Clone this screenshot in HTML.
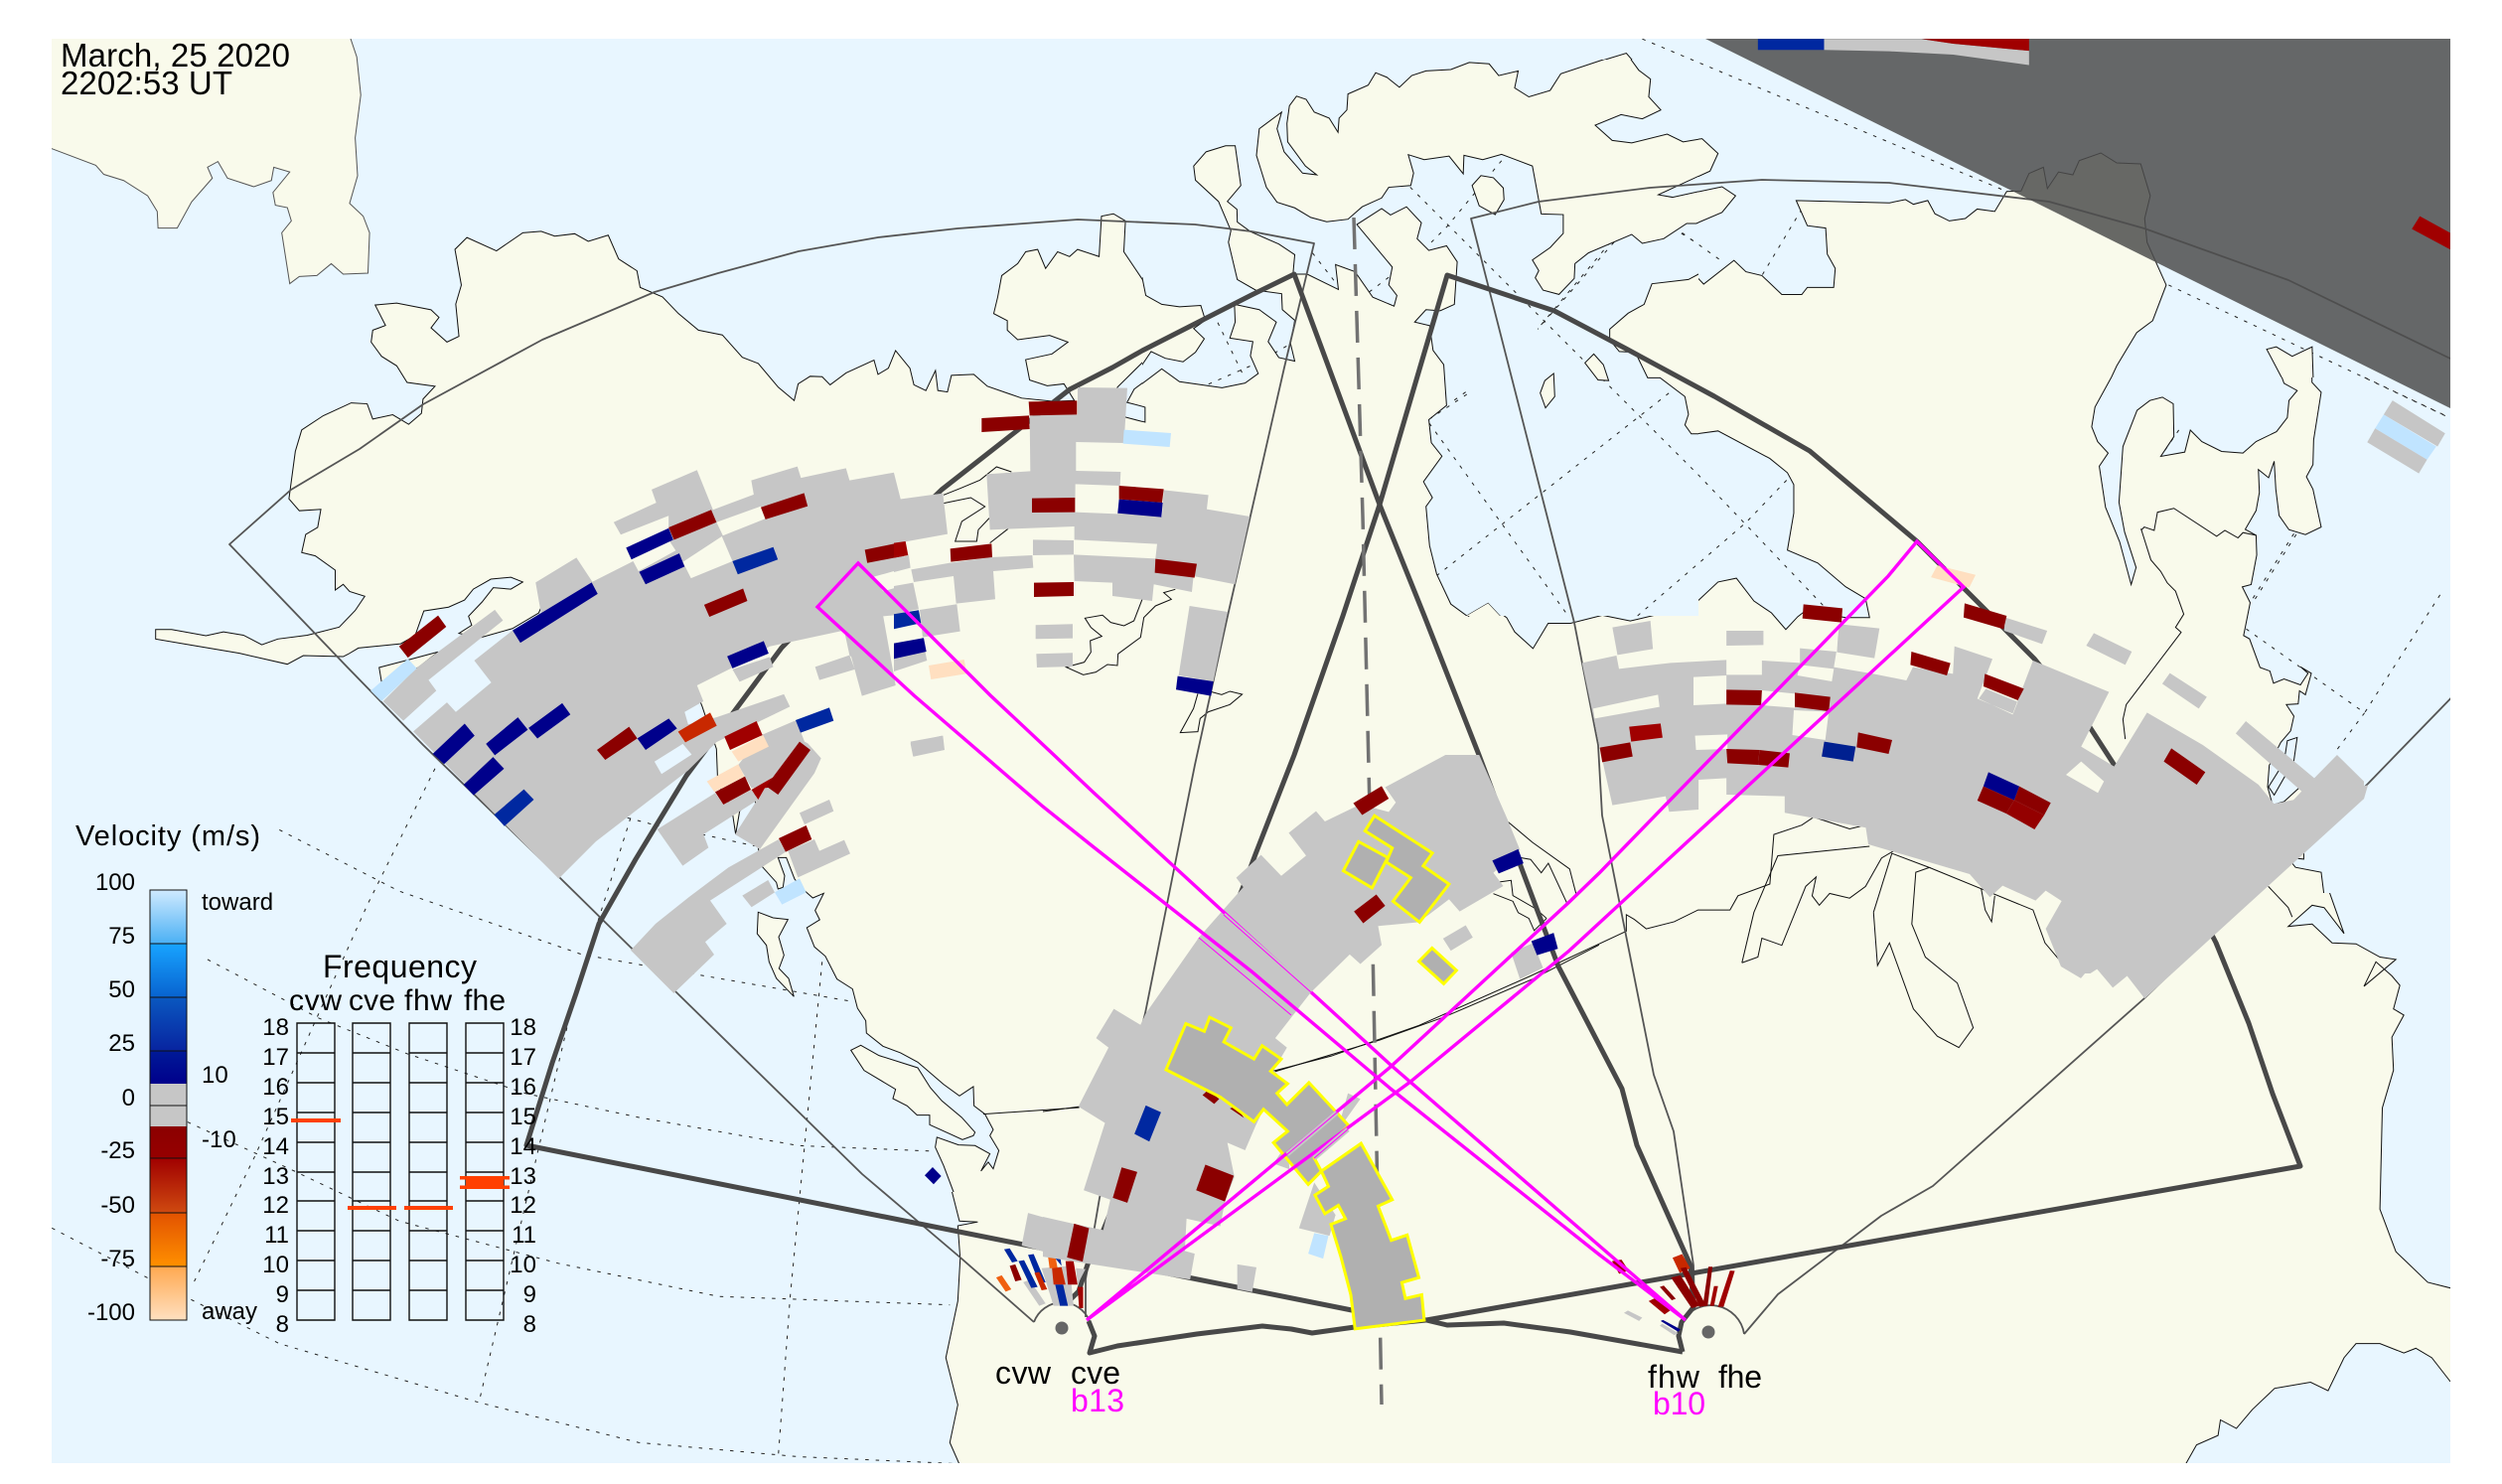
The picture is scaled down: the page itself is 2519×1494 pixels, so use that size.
<!DOCTYPE html>
<html><head><meta charset="utf-8"><style>
html,body{margin:0;padding:0;background:#fff}
svg{display:block}
*{vector-effect:non-scaling-stroke}
text{font-family:"Liberation Sans",sans-serif;vector-effect:none}
.l{fill:#f9faeb;stroke:#111;stroke-width:1}
.w{fill:none;stroke:#111;stroke-width:1}
.d{fill:none;stroke:#222;stroke-width:1;stroke-dasharray:3.5 7}
.g{fill:#c6c6c6}.r{fill:#8b0000}.n{fill:#00008b}.b{fill:#0028a0}.p{fill:#ffdfc0}.c{fill:#c0e4ff}.s{fill:#e8f6ff}.o{fill:#c82800}.a{fill:#a00000}
.y{fill:#b0b0b0;stroke:#ff0;stroke-width:3}
.t{fill:none;stroke:#484848;stroke-width:5;stroke-linejoin:round}
.f{fill:none;stroke:#555;stroke-width:1.8;stroke-linejoin:round}
.m{fill:none;stroke:#f0f;stroke-width:3.4}
</style></head><body>
<svg xmlns="http://www.w3.org/2000/svg" width="2519" height="1494" viewBox="0 0 2519 1494">
<defs>
<clipPath id="map"><rect x="52" y="39" width="2415" height="1434"/></clipPath>
<clipPath id="rest"><path clip-rule="evenodd" d="M0 0H2519V1494H0ZM1150 60H1710V620H1150ZM2000 380H2519V899H2000ZM600 700H1100V1200H600Z"/></clipPath>
<clipPath id="cq1"><rect x="0" y="0" width="1260" height="750"/></clipPath>
<clipPath id="cq2"><rect x="1260" y="0" width="1259" height="750"/></clipPath>
<clipPath id="cq3"><rect x="0" y="750" width="1260" height="744"/></clipPath>
<clipPath id="cq4"><rect x="1260" y="750" width="1259" height="744"/></clipPath>
<clipPath id="c6"><rect x="1150" y="60" width="560" height="560"/></clipPath>
<clipPath id="c5"><rect x="2000" y="380" width="519" height="519"/></clipPath>
<clipPath id="c8"><rect x="600" y="700" width="500" height="500"/></clipPath>
<linearGradient id="v1" x1="0" y1="0" x2="0" y2="1"><stop offset="0" stop-color="#cfeaff"/><stop offset="1" stop-color="#4bb0f4"/></linearGradient>
<linearGradient id="v2" x1="0" y1="0" x2="0" y2="1"><stop offset="0" stop-color="#18a4ff"/><stop offset="1" stop-color="#0863d0"/></linearGradient>
<linearGradient id="v3" x1="0" y1="0" x2="0" y2="1"><stop offset="0" stop-color="#0a58c0"/><stop offset="1" stop-color="#0824a0"/></linearGradient>
<linearGradient id="v4" x1="0" y1="0" x2="0" y2="1"><stop offset="0" stop-color="#001a98"/><stop offset="1" stop-color="#00008b"/></linearGradient>
<linearGradient id="v5" x1="0" y1="0" x2="0" y2="1"><stop offset="0" stop-color="#8b0000"/><stop offset="1" stop-color="#960000"/></linearGradient>
<linearGradient id="v6" x1="0" y1="0" x2="0" y2="1"><stop offset="0" stop-color="#a00000"/><stop offset="1" stop-color="#cf4a10"/></linearGradient>
<linearGradient id="v7" x1="0" y1="0" x2="0" y2="1"><stop offset="0" stop-color="#e25200"/><stop offset="1" stop-color="#ff9000"/></linearGradient>
<linearGradient id="v8" x1="0" y1="0" x2="0" y2="1"><stop offset="0" stop-color="#ffa850"/><stop offset="1" stop-color="#ffe0c0"/></linearGradient>
</defs>
<rect width="2519" height="1494" fill="#fff"/>
<g clip-path="url(#map)">
<rect x="52" y="39" width="2415" height="1434" fill="#e8f6ff"/>

<!-- graticule -->
<g transform="translate(0,750) scale(.8036,.4745)">
<polyline class="d" points="65,1025 190,1135 350,1270 600,1395 800,1480 1000,1510 1200,1525"/>
<polyline class="d" points="260,455 400,580 510,655 660,740 800,790 1000,850 1170,862"/>
<polyline class="d" points="235,800 370,905 500,1010 700,1100 900,1170 1190,1188"/>
<polyline class="d" points="350,180 500,310 730,445 1070,545"/>
<polyline class="d" points="545,50 460,340 320,870 240,1150"/>
<polyline class="d" points="790,155 720,530 600,1395"/>
<polyline class="d" points="1030,460 990,1170 975,1510"/>
</g>
<g transform="translate(1260,0) scale(.8029,.4783)">
<polyline class="d" points="490,82 950,405"/>
<polyline class="d" points="1150,600 1503,880"/>
<polyline class="d" points="199,394 560,999 720,1280"/>
<polyline class="d" points="223,891 397,1296"/>
<polyline class="d" points="232,1212 526,824"/>
<polyline class="d" points="680,995 620,1100 478,1305"/>
<polyline class="d" points="690,440 640,580"/>
<polyline class="d" points="540,490 590,550"/>
<polyline class="d" points="450,510 360,690"/>
<polyline class="d" points="270,830 225,880"/>
<polyline class="d" points="1310,1125 1255,1270"/>
</g>
<g transform="translate(1150,60) scale(.3571)">
<polyline class="d" points="200,715 285,890"/>
<polyline class="d" points="187,915 325,855 420,800"/>
<polyline class="d" points="480,545 550,635"/>
<polyline class="d" points="640,655 700,610"/>
<polyline class="d" points="1013,285 860,470 805,525"/>
<polyline class="d" points="880,960 915,935"/>
<polyline class="d" points="1330,515 1115,760"/>
<polyline class="d" points="1520,490 1568,520"/>
</g>
<g transform="translate(2000,380) scale(.331)">
<polyline class="d" points="1150,0 1400,118"/>
<polyline class="d" points="585,160 530,240"/>
<polyline class="d" points="935,475 805,680"/>
<polyline class="d" points="790,765 1150,1020 1390,645"/>
<polyline class="d" points="1150,1020 1060,1140"/>
</g>
<g transform="translate(600,700) scale(.3333)">
<polyline class="d" points="95,370 190,395"/>
<polyline class="d" points="320,420 480,455"/>
</g>

<!-- land outside detail tiles -->
<g clip-path="url(#rest)">
<g clip-path="url(#cq1)"><g transform="scale(.8036,.4783)">
<path class="l" style="stroke:#555" d="M65 313L120 348 130 367 155 380 185 412 197 445 198 480 222 480 240 425 266 375 260 352 273 340 285 375 318 393 340 380 343 352 363 362 342 405 345 432 360 437 365 465 353 490 363 597 375 582 397 580 415 555 430 577 461 575 463 490 455 455 438 428 448 370 445 290 452 200 447 120 437 70 40 70 40 313Z"/>
<path class="l" d="M195 1325L215 1325 258 1338 280 1330 305 1337 328 1357 348 1345 385 1337 425 1320 445 1285 457 1255 438 1245 430 1230 420 1242 420 1200 395 1170 378 1163 383 1125 398 1110 402 1072 375 1075 362 1050 370 950 378 905 405 875 440 848 460 850 467 882 492 873 512 893 528 870 530 840 545 813 510 805 497 770 478 750 465 720 467 695 483 685 470 642 497 638 540 652 550 668 540 690 560 720 575 708 571 640 578 600 570 525 585 500 622 528 655 490 678 487 695 497 720 492 737 508 762 495 775 545 798 570 802 605 830 625 850 660 875 695 905 705 930 752 950 765 975 815 995 843 1000 808 1015 792 1030 793 1040 810 1060 785 1095 758 1100 788 1113 775 1122 738 1140 775 1145 810 1160 822 1172 780 1175 822 1187 825 1192 790 1220 788 1237 813 1280 838 1320 845 1346 843 1333 808 1312 812 1290 800 1285 757 1318 745 1338 720 1315 706 1275 715 1262 695 1262 675 1245 660 1250 625 1255 580 1275 555 1285 530 1300 525 1310 565 1325 530 1340 540 1350 525 1377 540 1380 455 1395 450 1410 465 1408 530 1432 590 1438 625 1465 645 1508 643 1500 685 1508 710 1495 750 1478 762 1445 740 1400 815 1395 840 1410 878 1435 889 1435 857 1412 847 1421 819 1455 777 1479 803 1531 815 1560 805 1600 780 1600 1600 898 1600 880 1487 689 1278 681 1267 675 1290 642 1323 602 1342 575 1333 591 1316 587 1297 604 1267 618 1237 640 1240 655 1225 640 1215 615 1219 593 1240 582 1263 562 1278 531 1286 520 1338 502 1355 449 1364 436 1377 430 1382 380 1380 360 1398 300 1375 240 1358 195 1345Z"/>
<polygon class="l" points="475,1405 509,1390 549,1372 524,1405 478,1435"/>
</g></g>
<g clip-path="url(#cq2)"><g transform="translate(1260,0) scale(.8029,.4783)">
<path class="l" d="M470 112L500 170 497 205 513 232 490 250 460 240 430 262 455 298 478 298 520 282 540 297 565 292 585 323 575 360 510 410 528 415 590 393 607 412 590 447 558 470 540 490 520 500 508 513 490 510 475 495 440 515 410 545 405 580 385 618 365 610 355 580 358 568 352 547 390 495 390 450 362 448 350 350 315 325 288 338 265 328 265 365 247 328 198 327 205 390 170 395 125 460 75 465 30 425 5 320 8 270 37 237 35 300 62 363 80 367 45 300 45 230 55 203 70 210 95 245 108 280 110 250 120 235 120 200 148 180 160 155 185 185 220 150 250 147 275 130 298 132 308 158 333 150 333 180 347 205 372 190 385 152 415 140Z"/>
<path class="l" d="M-10 1600L-10 1250 250 1260 272 1297 295 1270 320 1300 330 1330 353 1365 372 1312 400 1312 440 1295 475 1307 530 1285 550 1280 585 1225 608 1217 630 1265 652 1290 670 1325 685 1298 695 1285 745 1300 775 1300 770 1260 745 1235 710 1185 672 1158 680 1080 680 1020 672 995 650 965 585 907 550 915 545 875 548 845 525 800 495 795 480 740 455 740 450 695 485 655 500 600 555 577 567 598 605 548 620 572 640 580 665 620 690 620 697 605 730 605 732 565 722 535 720 480 697 475 683 422 750 425 800 427 820 420 830 430 848 422 857 450 875 465 895 460 910 440 932 445 947 403 965 402 975 365 993 352 998 397 1012 362 1030 368 1038 338 1065 322 1085 343 1115 345 1127 412 1120 460 1123 510 1147 600 1130 675 1110 700 1085 770 1057 870 1055 900 1100 1600Z"/>
<polygon class="l" points="1273,735 1285,730 1305,750 1330,730 1332,830 1300,830 1295,805"/>
</g></g>
<g clip-path="url(#cq3)"><g transform="translate(0,750) scale(.8036,.4745)">
<path class="l" d="M880 -20L897 61 922 190 930 100 987 129 1000 180 1030 315 1020 345 1025 375 1010 385 1020 430 1045 470 1070 535 1085 610 1145 675 1165 725 1220 725 1222 770 1240 800 1250 860 1245 903 1230 900 1245 855 1175 835 1172 860 1190 930 1202 1010 1225 1012 1200 1020 1203 1090 1200 1180 1185 1300 1200 1400 1190 1480 1203 1530 1600 1600 1600 -20Z"/>
</g></g>
<g clip-path="url(#cq4)"><g transform="translate(1260,750) scale(.8029,.4745)">
<path class="l" d="M-10 -20L1290 -20 1347 290 1370 400 1345 345 1330 340 1300 385 1330 380 1355 420 1385 422 1415 450 1435 455 1395 512 1410 460 1430 490 1440 510 1432 560 1445 573 1430 620 1432 690 1418 770 1415 985 1435 1075 1475 1140 1510 1155 1510 1345 1503 1350 1480 1300 1460 1280 1445 1290 1415 1270 1385 1270 1370 1300 1350 1370 1328 1352 1283 1365 1255 1410 1235 1450 1215 1432 1212 1465 1185 1485 1170 1530 -10 1530Z"/>
</g></g>
</g>

<!-- Z6 land tile -->
<g clip-path="url(#c6)"><g transform="translate(1150,60) scale(.3571)">
<path class="l" d="M393 148L330 195 322 270 350 360 380 402 430 418 475 445 520 457 580 450 620 415 675 390 695 360 757 355 765 320 750 268 795 282 865 272 905 322 907 270 960 282 1013 267 1100 300 1125 435 1187 437 1187 490 1150 530 1100 565 1118 595 1108 615 1130 650 1175 662 1218 617 1220 575 1258 545 1380 493 1410 518 1470 505 1535 462 1562 462 1634 431 1672 384 1634 358 1495 388 1455 381 1600 314 1624 265 1578 223 1525 232 1480 210 1380 235 1325 228 1277 185 1350 155 1410 167 1462 142 1428 105 1433 55 1400 30 1378 0 1365 -18 1300 0 1180 40 1150 87 1090 105 1050 80 1060 32 1005 45 978 12 922 8 870 28 800 32 760 45 725 78 690 50 658 37 637 72 580 97 577 142 555 165 552 205 527 165 485 148 462 112 435 103 415 130 408 180 410 232 460 300 492 325 452 320 400 260 380 195Z"/>
<path class="l" d="M-100 1008L-47 1008 8 1022 8 980 -42 966 -22 930 55 872 105 908 225 925 290 912 327 885 305 835 312 795 247 785 262 740 260 690 330 705 378 740 355 795 385 840 430 850 418 800 430 735 395 705 393 660 320 650 268 620 243 515 250 482 215 400 150 340 145 300 180 260 235 243 262 243 278 355 240 400 267 422 268 458 305 485 385 520 430 550 425 605 465 605 553 648 545 578 600 598 650 670 710 695 718 665 695 635 705 585 605 465 675 420 700 438 745 415 787 460 775 505 808 538 858 525 888 570 880 690 840 708 800 705 768 740 810 750 820 820 850 860 858 975 808 1015 815 1080 845 1118 793 1190 818 1235 800 1260 810 1370 830 1450 870 1535 915 1568 975 1533 1010 1570 1000 1700 -100 1700Z"/>
<path class="l" d="M-100 615L0 615 10 665 55 690 105 697 165 693 178 735 145 758 175 787 150 825 115 852 65 842 25 823 0 860 -100 860Z"/>
<polygon class="l" points="930,355 955,327 990,333 1018,362 1020,395 995,437 950,412"/>
<polygon class="l" points="1248,855 1273,830 1300,860 1315,905 1285,903"/>
<polygon class="l" points="1160,885 1163,950 1137,982 1122,940 1135,905"/>
<path class="l" d="M1318 760L1318 790 1345 823 1390 825 1425 897 1460 897 1530 950 1540 1000 1530 1030 1548 1055 1700 1055 1700 600 1568 605 1540 620 1437 632 1415 690 1370 715Z"/>
<path class="l" d="M920 1700L915 1568 975 1533 1010 1570 1500 1700Z" style="stroke:none"/>
</g></g>

<!-- Z5 land tile -->
<g clip-path="url(#c5)"><g transform="translate(2000,380) scale(.331)">
<path class="l" d="M385 -10L330 90 320 150 338 195 370 230 343 270 362 395 405 500 440 630 455 578 420 470 403 380 415 210 458 100 497 70 535 60 568 80 570 180 530 240 603 227 620 160 655 195 715 225 780 230 820 195 882 165 915 122 920 70 945 40 905 18 895 -10 990 -10 990 15 1018 45 995 190 993 265 973 302 993 340 1018 455 970 478 920 463 890 420 880 340 875 255 858 305 827 280 830 350 820 405 787 462 820 480 822 540 805 630 778 637 802 685 782 785 800 795 832 882 862 893 873 930 905 917 955 935 978 900 955 880 988 900 970 965 952 953 948 993 912 995 935 1030 925 1075 895 1110 860 1180 855 1245 870 1300 905 1290 960 1240 1000 1300 965 1430 965 1465 915 1460 940 1490 1018 1505 1030 1600 -20 1600 -20 -10Z"/>
<polygon class="s" points="915,1105 945,1095 935,1165 875,1270 858,1245 905,1170"/>
<polygon class="w" points="915,1105 945,1095 935,1165 875,1270 858,1245 905,1170"/>
<polyline class="w" points="470,465 480,455 510,465 520,410 570,398 700,483 725,465 765,488 780,472 820,480"/>
<polyline class="w" points="470,460 500,555 530,590 550,625 575,650 600,720 575,760 592,775 425,995 415,1040 422,1100"/>
</g></g>

<!-- Z8 land tile -->
<g clip-path="url(#c8)"><g transform="translate(600,700) scale(.3333)">
<path class="l" d="M300 -20L321 34 364 162 368 265 410 340 422 420 434 350 480 300 490 460 500 515 545 565 550 585 565 580 570 545 550 490 575 490 600 555 630 590 655 612 688 598 662 650 676 678 637 702 660 760 693 788 728 857 775 887 790 945 815 983 817 1020 867 1060 920 1080 972 1108 1050 1175 1098 1210 1140 1182 1142 1240 1175 1265 1200 1312 1190 1330 1217 1375 1200 1430 1185 1410 1163 1437 1190 1385 1145 1360 1095 1358 1030 1335 1025 1365 1050 1420 1080 1500 1100 1600 1600 1600 1600 -20Z"/>
<polygon class="l" points="770,1072 800,1057 855,1088 972,1125 1010,1185 1045,1225 1105,1275 1145,1320 1140,1330 1107,1342 1008,1297 1008,1268 970,1268 940,1240 897,1218 905,1190 810,1133"/>
<polygon class="l" points="490,655 535,672 580,677 552,730 568,785 553,825 582,855 598,910 545,855 523,805 515,755 487,720"/>
<polyline class="w" points="1170,1265 1460,1245"/>
</g></g>

<!-- inland lines -->
<g transform="translate(900,370) scale(.3333)">
<polyline class="w" points="150,385 200,365 260,340 310,300 355,315"/>
<polyline class="w" points="150,410 232,393 275,420 205,465 185,525 250,525 255,490 288,455"/>
<polyline class="w" points="290,530 345,487"/>
<polyline class="w" points="750,700 725,765 695,780 655,770 630,748 577,757 595,785 628,812 593,825 595,860 575,890 520,905 572,928 610,920 645,897 675,900 677,865 745,815 755,755 790,720 838,700 815,680 850,670"/>
<polyline class="w" points="960,980 990,988 1015,978 1052,987 1015,1018 950,1040 925,1060 918,1100 865,1103 905,1030 918,985"/>
</g>
<g transform="translate(1260,750) scale(.8029,.4745)">
<polyline class="w" points="780,355 803,230 850,260 833,270 828,380 845,450 885,505 905,600 887,642 860,618 830,560 800,420 785,468 780,355"/>
<polyline class="w" points="615,462 630,355 660,235 775,215"/>
<polyline class="w" points="615,462 635,450 640,410 665,425 695,300 708,280 703,320 712,340 725,315 750,325 770,300 790,240 805,225"/>
<polyline class="w" points="915,305 920,350 928,375 932,320"/>
<polyline class="w" points="850,260 980,350 995,420 1020,470"/>
<polyline class="w" points="20,695 100,660 210,595 350,490 470,395 470,360 480,370 495,390 530,375 560,350 600,350 610,320 650,295 655,190 690,170 705,153 750,178 770,170"/>
<polyline class="w" points="1275,300 1300,345 1305,365"/>
</g>
<g transform="translate(1050,760) scale(.3571,.3827)">
<polyline class="w" points="1310,175 1380,230 1485,300 1503,365"/>
<polyline class="w" points="1270,365 1325,385 1340,415 1370,430 1385,462 1420,430"/>
<polyline class="w" points="1280,335 1320,330 1325,370 1390,405 1420,430"/>
<polyline class="w" points="1345,270 1375,275 1405,310 1425,285 1480,395"/>
<polyline class="w" points="0,938 105,925"/>
<polyline class="w" points="655,833 950,750 1130,690 1380,590 1568,500"/>
</g>

<!-- thin FOVs -->
<polyline class="f" points="1041,1331 968,1267 868,1182 683,1001 563,883 426,750 350,672 231,548 293,493 362,452 426,407 546,342 659,294 723,275 804,253 884,239 964,230 1085,221 1203,226 1260,233 1323,245 1293,370 1236,620 1203,770 1153,1020 1107,1206 1093,1288 1093,1326"/>
<polyline class="f" points="1756,1343 1790,1303 1894,1224 1946,1194 2159,1005 2384,789 2480,690"/>
<polyline class="f" points="2467,361 2304,282 2159,230 2063,203 1902,184 1774,181 1661,189 1549,203 1481,220 1585,627 1609,750 1613,821 1665,1082 1685,1139 1705,1274 1706,1316"/>
<path class="f" d="M1041 1331A30 30 0 0 1 1097 1330"/>
<path class="f" d="M1693 1331A34 34 0 0 1 1756 1343"/>
<!-- thick FOVs -->
<polyline class="t" points="1096,1330 1102,1345 1097,1362 1125,1355 1205,1343 1271,1335 1300,1338 1321,1342 1364,1336 1436,1329 2316,1174 2288,1101 2264,1030 2231,949 2180,850 2126,766 2104,732 2048,663 2018,633 1930,545 1822,454 1726,399 1637,351 1565,313 1457,277 1389,508 1352,620 1303,760 1264,860 1252,892 1111,1238 1095,1273 1086,1300 1073,1313"/>
<polyline class="t" points="1694,1361 1690,1345 1693,1331 1705,1316 1702,1274 1648,1153 1633,1096 1569,973 1489,760 1434,620 1389,508 1303,276 1260,297 1205,325 1150,353 1120,370 1077,392 948,493 868,570 787,652 691,781 640,865 603,930 580,1000 556,1070 530,1153 1361,1319 1436,1329 1457,1334 1514,1332 1581,1341 1694,1361"/>
<!-- dashed centre -->
<polyline fill="none" stroke="#727272" stroke-width="3.5" stroke-dasharray="32 15" points="1363,219 1372,520 1381,900 1391,1414"/>
<circle cx="1069" cy="1337" r="6.5" fill="#666"/>
<circle cx="1720" cy="1341" r="6.5" fill="#666"/>

<!-- terminator -->
<polygon points="1717,39 2467,39 2467,411" fill="#4e4e4e" fill-opacity=".85"/>
</g>

<!-- data -->
<g clip-path="url(#map)">
<g transform="translate(1260,0) scale(.8029,.4783)">
<polygon class="b" points="635,82 718,82 718,105 635,105"/>
<polygon class="g" points="718,82 840,82 880,92 975,107 975,137 880,115 800,108 718,105"/>
<polygon class="a" points="840,82 975,82 975,107 880,92"/>
<polygon class="a" points="1465,455 1503,490 1503,525 1455,482"/>
<polygon class="p" points="860,1190 908,1210 900,1237 852,1215"/>
</g>
<g transform="translate(2000,380) scale(.331)">
<polygon class="g" points="1235,70 1395,170 1372,210 1208,113"/>
<polygon class="c" points="1208,113 1368,210 1340,250 1182,155"/>
<polygon class="g" points="1182,155 1340,250 1315,292 1158,197"/>
</g>
<!-- west radar -->
<g transform="translate(350,440) scale(.3571)">
<path class="g" fill-rule="evenodd" d="M185 830L280 748 305 775 405 692 357 630 465 545 545 495 530 410 645 340 690 408 805 350 820 378 925 320 905 290 905 222 770 275 750 240 870 185 857 148 985 93 1030 205 1145 162 1138 122 1268 83 1278 115 1405 88 1415 122 1540 100 1568 210 1568 370 1480 395 1510 435 1568 418 1568 500 1510 505 1545 700 1450 730 1420 620 1415 615 1400 545 1190 590 1085 650 985 700 1003 745 950 775 960 810 1040 790 1230 725 1247 760 1040 860 960 940 830 1040 700 1140 595 1245ZM945 352L1055 280 1085 350 968 398ZM1040 240L1165 195 1178 230 1058 278ZM865 915L945 865 970 895 885 950Z"/>
<polygon class="g" points="100,745 195,650 415,487 438,517 228,685 250,715 157,800"/>
<polygon class="g" points="1085,655 1190,620 1200,648 1105,690"/>
<polygon class="g" points="1318,648 1415,615 1430,655 1330,685"/>
<polygon class="r" points="145,590 255,503 278,535 170,622"/>
<polygon class="c" points="65,715 170,625 195,652 95,745"/>
<polygon class="n" points="465,545 688,410 705,442 487,580"/>
<polygon class="n" points="240,893 330,808 358,842 272,922"/>
<polygon class="n" points="390,865 480,790 508,825 415,897"/>
<polygon class="n" points="510,820 605,750 628,782 535,850"/>
<polygon class="n" points="327,980 410,902 441,935 355,1010"/>
<polygon class="b" points="413,1065 497,993 525,1022 442,1097"/>
<polygon class="r" points="905,255 1025,205 1040,240 920,290"/>
<polygon class="n" points="785,312 905,257 918,290 800,345"/>
<polygon class="n" points="822,380 935,328 950,365 840,415"/>
<polygon class="r" points="1165,198 1287,158 1297,195 1178,232"/>
<polygon class="b" points="1085,350 1200,310 1213,345 1100,387"/>
<polygon class="r" points="1005,473 1115,427 1127,462 1020,507"/>
<polygon class="r" points="1458,318 1568,295 1568,335 1465,355"/>
<polygon class="n" points="1070,618 1173,575 1187,610 1085,652"/>
</g>
<g transform="translate(600,700) scale(.3333)">
<polygon class="g" points="500,120 605,75 630,140 640,145 680,190 660,235 495,465 420,420 510,280 470,280 430,210"/>
<polygon class="g" points="185,405 360,295 385,330 470,285 490,315 325,420 340,460 262,515"/>
<polygon class="g" points="615,355 705,315 718,350 630,390"/>
<polygon class="g" points="105,770 180,690 280,610 400,520 552,435 573,473 345,620 395,690 330,745 357,783 235,900"/>
<polygon class="g" points="580,470 660,435 675,470 750,437 768,478 610,550"/>
<polygon class="g" points="442,605 520,558 540,595 470,640"/>
<polygon class="g" points="950,145 1045,122 1052,162 958,185"/>
<polygon class="c" points="540,595 615,553 635,595 562,632"/>
<polygon class="b" points="603,75 705,37 718,77 618,113"/>
<polygon class="r" points="3,165 100,95 125,130 28,195"/>
<polygon class="n" points="125,130 220,70 245,100 150,165"/>
<polygon class="o" points="248,110 345,52 365,92 270,142"/>
<polygon class="a" points="388,125 485,78 503,120 405,165"/>
<polygon class="p" points="410,170 505,120 522,155 430,200"/>
<polygon class="p" points="335,260 430,208 448,245 358,292"/>
<polygon class="r" points="360,292 450,245 468,285 385,330"/>
<polygon class="a" points="470,285 540,245 550,275 510,280 490,315"/>
<polygon class="r" points="615,140 648,165 550,300 515,275 540,240"/>
<polygon class="r" points="552,432 635,393 652,435 573,473"/>
<polygon class="n" points="993,1450 1017,1425 1043,1452 1020,1477"/>
</g>
<g transform="translate(900,370) scale(.3333)">
<polygon class="g" points="280,322 412,313 410,145 555,142 555,60 705,62 695,228 550,225 550,312 685,315 683,357 548,352 547,437 675,442 680,405 810,450 815,370 950,385 945,428 1075,450 1030,655 905,630 900,678 785,655 780,705 660,690 660,650 545,645 543,565 790,577 795,533 545,520 545,480 290,490"/>
<polygon class="g" points="420,520 543,522 543,565 420,567"/>
<polygon class="g" points="52,610 170,590 295,573 418,567 421,605 300,615 306,700 188,713 180,630 60,648"/>
<polygon class="g" points="0,400 148,380 162,503 40,525 0,535"/>
<polygon class="g" points="0,580 45,567 50,605 0,618"/>
<polygon class="g" points="0,660 58,650 75,730 0,745"/>
<polygon class="g" points="78,732 190,715 200,797 85,815 100,885 0,918 0,870 90,845"/>
<polygon class="g" points="428,778 540,775 540,818 428,820"/>
<polygon class="g" points="430,865 540,862 540,903 432,906"/>
<polygon class="g" points="893,720 1008,738 965,948 860,930"/>
<polygon class="g" points="50,1130 148,1112 153,1155 60,1175"/>
<polygon class="r" points="407,103 553,100 553,142 410,145"/>
<polygon class="r" points="265,153 408,145 410,186 265,195"/>
<polygon class="r" points="680,357 815,367 810,408 680,398"/>
<polygon class="n" points="680,398 812,408 808,452 676,440"/>
<polygon class="r" points="417,395 547,393 547,437 417,438"/>
<polygon class="r" points="170,547 295,532 297,573 172,587"/>
<polygon class="a" points="0,530 35,525 43,567 0,575"/>
<polygon class="r" points="790,578 915,593 908,635 788,620"/>
<polygon class="r" points="423,650 543,648 543,690 423,693"/>
<polygon class="b" points="0,745 75,733 82,772 0,790"/>
<polygon class="n" points="0,833 90,817 98,858 0,880"/>
<polygon class="n" points="857,932 965,948 958,992 852,973"/>
<polygon class="p" points="105,900 212,882 220,925 112,942"/>
<polygon class="c" points="695,188 837,198 833,240 692,230"/>
</g>
<!-- east radar -->
<g transform="translate(1580,580) scale(.5102,.3333)">
<path class="g" fill-rule="evenodd" d="M25 262L93 240 98 280 200 262 310 253 310 298 380 298 380 255 455 262 455 218 527 228 522 275 600 295 665 315 678 275 757 295 760 212 835 250 805 370 875 415 915 255 1065 350 1010 515 1075 575 1140 412 1250 510 1360 630 1405 715 1445 650 1315 475 1335 438 1470 610 1515 540 1568 620 1568 672 1028 1200 1000 1200 940 1065 990 1000 940 950 920 980 855 935 830 970 790 900 590 810 585 760 425 715 425 665 310 660 310 610 255 615 255 705 197 712 190 665 85 692 70 590ZM47 400L175 358 178 395 50 430ZM245 305L310 300 310 385 245 390ZM380 345L445 355 445 398 380 390ZM455 268L522 280 518 318 450 300ZM443 405L512 410 505 495 440 480ZM248 482L312 478 312 522 250 525ZM808 370L822 340 885 380 875 418ZM1010 560L1055 620 1043 655 980 600Z"/>
<polygon class="g" points="85,155 160,135 165,220 95,238"/>
<polygon class="g" points="310,165 383,165 383,208 310,210"/>
<polygon class="g" points="530,185 533,145 612,158 602,248 528,230"/>
<polygon class="g" points="860,125 943,165 933,205 858,165"/>
<polygon class="g" points="1035,172 1110,228 1097,268 1020,210"/>
<polygon class="g" points="1185,293 1258,365 1242,400 1170,325"/>
<polygon class="r" points="462,85 539,97 537,140 460,128"/>
<polygon class="r" points="780,82 863,120 857,160 778,125"/>
<polygon class="r" points="675,228 752,263 745,300 673,268"/>
<polygon class="r" points="820,295 897,340 885,375 817,333"/>
<polygon class="a" points="118,455 180,445 184,488 122,500"/>
<polygon class="r" points="60,518 120,502 125,545 65,562"/>
<polygon class="r" points="310,522 375,525 373,570 312,565"/>
<polygon class="r" points="375,525 435,535 432,578 373,570"/>
<polygon class="r" points="445,352 515,365 512,408 445,395"/>
<polygon class="r" points="310,343 380,345 378,390 310,388"/>
<polygon class="n" points="503,500 565,515 560,560 498,545" style="fill:#002090"/>
<polygon class="r" points="570,472 637,495 630,537 567,517"/>
<polygon class="r" points="1188,520 1255,592 1238,630 1173,560"/>
<polygon class="r" points="1048,835 1103,897 1063,972 1013,910"/>
<polygon class="n" points="827,592 888,635 878,677 817,635"/>
<polygon class="r" points="888,635 950,685 937,722 878,677"/>
<polygon class="r" points="817,635 878,677 862,717 805,678"/>
<polygon class="r" points="878,677 937,722 918,765 862,717" style="fill:#940000"/>
</g>
<g transform="translate(1260,750) scale(.8029,.4745)">
<polygon class="g" points="996,390 1060,200 1400,85 1395,114 1120,538 1098,490 1080,515 1055,465 1040,495 1015,470"/>
<polygon class="o" points="528,1088 540,1080 550,1110 537,1120"/>
<polygon class="r" points="538,1110 545,1108 570,1190 562,1192"/>
<polygon class="r" points="573,1107 578,1107 572,1190 566,1190"/>
<polygon class="a" points="600,1115 606,1116 592,1192 585,1192"/>
<polygon class="a" points="580,1148 585,1148 580,1190 575,1190"/>
<polygon class="r" points="526,1130 538,1125 562,1190 552,1195"/>
<polygon class="r" points="512,1150 517,1147 532,1175 527,1178"/>
<polygon class="a" points="498,1180 508,1172 525,1200 518,1208"/>
<polygon class="a" points="452,1095 464,1092 473,1115 461,1122"/>
<polygon class="g" points="467,1205 472,1200 490,1215 486,1222"/>
<polygon class="g" points="512,1232 515,1228 535,1248 530,1252"/>
<polygon class="n" points="513,1222 516,1220 538,1240 535,1245"/>
</g>
<g transform="translate(0,750) scale(.8036,.4745)">
<polygon class="g" points="1280,1062 1288,993 1345,1020 1400,1100 1350,1095"/>
<polygon class="g" points="1305,1110 1340,1105 1345,1190 1320,1190"/>
<polygon class="g" points="1282,1140 1290,1135 1310,1185 1302,1190"/>
<polygon class="g" points="1348,1110 1360,1112 1350,1145"/>
<polygon class="b" points="1258,1070 1265,1068 1275,1095 1268,1098"/>
<polygon class="r" points="1265,1105 1272,1102 1280,1135 1272,1138"/>
<polygon class="b" points="1276,1095 1283,1093 1300,1150 1292,1152"/>
<polygon points="1248,1130 1255,1125 1267,1155 1260,1160" fill="#f06010"/>
<polygon class="b" points="1288,1082 1295,1080 1310,1140 1302,1142"/>
<polygon class="o" points="1296,1120 1302,1118 1312,1155 1305,1157"/>
<polygon points="1313,1085 1322,1083 1325,1110 1315,1110" fill="#f06010"/>
<polygon class="b" points="1320,1085 1328,1083 1330,1105"/>
<polygon class="o" points="1318,1110 1330,1108 1335,1145 1320,1145"/>
<polygon class="b" points="1322,1145 1332,1145 1338,1190 1328,1190"/>
<polygon class="a" points="1335,1095 1345,1095 1350,1145 1338,1145"/>
<polygon class="a" points="1350,1150 1357,1150 1357,1195 1352,1195"/>
</g>
<!-- centre -->
<g transform="translate(1050,760) scale(.3571,.3827)">
<polygon class="g" points="1135,0 1230,0 1310,170 1345,250 1270,310 1298,345 1175,412 1145,380 1060,440 945,450 955,500 895,550 865,525 755,625 655,745 688,770 650,830 690,865 660,890 622,932 600,975 570,1040 520,1020 540,1110 513,1175 500,1240 405,1220 400,1305 428,1312 415,1380 0,1320 0,1215 80,1232 170,1250 190,1170 115,1145 175,968 100,925 185,770 150,745 200,668 275,710 290,680 440,480 565,348 545,323 615,263 672,318 742,265 693,205 770,148 795,175 895,130 975,150 995,125 965,85"/>
<polygon class="g" points="1128,483 1192,448 1212,480 1150,515"/>
<polygon class="g" points="1320,520 1382,495 1410,560 1345,590"/>
<polygon class="g" points="548,1340 602,1348 590,1413 548,1405"/>
<polygon class="g" points="765,1125 825,1210 808,1265 722,1245"/>
<polygon class="g" points="650,1075 690,1020 695,1090"/>
<polygon class="g" points="860,890 895,905 830,990"/>
<polygon class="c" points="765,1258 805,1265 790,1325 748,1312"/>
<polygon class="r" points="875,127 955,82 975,115 900,158"/>
<polygon class="r" points="877,412 940,367 965,397 903,443"/>
<polygon class="r" points="450,895 465,882 497,905 483,918"/>
<polygon class="r" points="527,930 545,925 567,955"/>
<polygon class="b" points="290,922 333,940 300,1017 258,997"/>
<polygon class="r" points="222,1085 266,1097 238,1178 197,1165"/>
<polygon class="r" points="458,1078 538,1107 513,1175 432,1145"/>
<polygon class="r" points="88,1233 130,1245 112,1333 68,1322"/>
<polygon class="n" points="1267,278 1340,248 1355,285 1285,312"/>
<polygon class="n" points="1377,490 1440,468 1452,510 1393,527"/>
<polygon class="y" points="403,707 455,727 470,690 530,718 510,755 595,800 618,765 672,800 642,832 690,865 660,890 688,920 750,862 862,975 765,1060 785,1095 748,1130 650,1020 690,990 622,932 595,965 500,900 347,828"/>
<polygon class="y" points="897,1022 985,1170 945,1187 982,1277 1027,1263 1060,1375 1012,1388 1022,1430 1068,1420 1075,1487 880,1510 868,1420 840,1320 812,1235 853,1220 833,1185 795,1207 767,1158 805,1135 785,1095"/>
<polygon class="y" points="935,160 1098,258 1072,292 1145,340 1062,440 987,385 1037,323 968,282 985,245 908,200"/>
<polygon class="y" points="890,228 972,270 928,350 847,305"/>
<polygon class="y" points="1097,508 1166,567 1130,602 1060,543"/>
</g>

<!-- magenta beams -->
<polyline class="m" points="1697,1329 1610,1254 1400,1072 1260,944 1100,797 1061,760 997,700 864,567 823,611 920,700 1050,812 1100,852 1260,978 1400,1096 1610,1263 1697,1329"/>
<polyline class="m" points="1094,1329 1400,1074 1580,908 1610,879 1901,580 1930,545 1977,591 1580,957 1420,1089 1094,1329"/>
<g fill="none">
<line x1="1232" y1="921" x2="1320" y2="999" stroke="#c6c6c6" stroke-width="5"/>
<line x1="1232" y1="921" x2="1320" y2="999" stroke="#f0f" stroke-width="1"/>
<line x1="1207" y1="944" x2="1300" y2="1022" stroke="#c6c6c6" stroke-width="5"/>
<line x1="1207" y1="944" x2="1300" y2="1022" stroke="#f0f" stroke-width="1"/>
<line x1="1296" y1="1162" x2="1346" y2="1120" stroke="#c6c6c6" stroke-width="5"/>
<line x1="1296" y1="1162" x2="1346" y2="1120" stroke="#f0f" stroke-width="1"/>
<line x1="1323" y1="1166" x2="1357" y2="1137" stroke="#c6c6c6" stroke-width="5"/>
<line x1="1323" y1="1166" x2="1357" y2="1137" stroke="#f0f" stroke-width="1"/>
</g>

<!-- legend: colour bar -->
<g stroke="none">
<rect x="151" y="896" width="37" height="54" fill="url(#v1)"/>
<rect x="151" y="950" width="37" height="54" fill="url(#v2)"/>
<rect x="151" y="1004" width="37" height="54" fill="url(#v3)"/>
<rect x="151" y="1058" width="37" height="33" fill="url(#v4)"/>
<rect x="151" y="1091" width="37" height="43" fill="#c6c6c6"/>
<rect x="151" y="1134" width="37" height="32" fill="url(#v5)"/>
<rect x="151" y="1166" width="37" height="55" fill="url(#v6)"/>
<rect x="151" y="1221" width="37" height="54" fill="url(#v7)"/>
<rect x="151" y="1275" width="37" height="54" fill="url(#v8)"/>
</g>
<rect x="151" y="896" width="37" height="433" fill="none" stroke="#111" stroke-width="1"/>
<g stroke="#111" stroke-width="1">
<line x1="151" x2="188" y1="950" y2="950"/><line x1="151" x2="188" y1="1004" y2="1004"/><line x1="151" x2="188" y1="1058" y2="1058"/><line x1="151" x2="188" y1="1113" y2="1113"/><line x1="151" x2="188" y1="1166" y2="1166"/><line x1="151" x2="188" y1="1221" y2="1221"/><line x1="151" x2="188" y1="1275" y2="1275"/>
</g>
<!-- frequency boxes -->
<g fill="none" stroke="#111" stroke-width="1.4">
<rect x="299" y="1030" width="38" height="299"/><rect x="355" y="1030" width="38" height="299"/><rect x="412" y="1030" width="38" height="299"/><rect x="469" y="1030" width="38" height="299"/>
<path d="M299 1060H337M299 1090H337M299 1120H337M299 1150H337M299 1180H337M299 1209H337M299 1239H337M299 1269H337M299 1299H337"/>
<path d="M355 1060H393M355 1090H393M355 1120H393M355 1150H393M355 1180H393M355 1209H393M355 1239H393M355 1269H393M355 1299H393"/>
<path d="M412 1060H450M412 1090H450M412 1120H450M412 1150H450M412 1180H450M412 1209H450M412 1239H450M412 1269H450M412 1299H450"/>
<path d="M469 1060H507M469 1090H507M469 1120H507M469 1150H507M469 1180H507M469 1209H507M469 1239H507M469 1269H507M469 1299H507"/>
</g>
<g fill="#ff4000">
<rect x="293" y="1126" width="50" height="4"/>
<rect x="350" y="1214" width="49" height="4"/>
<rect x="407" y="1214" width="49" height="4"/>
<rect x="463" y="1184" width="50" height="3.5"/>
<rect x="469" y="1186" width="38" height="10"/>
<rect x="463" y="1193.5" width="50" height="3.5"/>
</g>
</g>

<g font-size="24" fill="#000">
<text x="61" y="67" font-size="33" textLength="231">March, 25 2020</text>
<text x="61" y="95" font-size="33" textLength="173">2202:53 UT</text>
<text x="76" y="851" font-size="29" textLength="186">Velocity (m/s)</text>
<g text-anchor="end">
<text x="136" y="896">100</text><text x="136" y="950">75</text><text x="136" y="1004">50</text><text x="136" y="1058">25</text><text x="136" y="1113">0</text><text x="136" y="1166">-25</text><text x="136" y="1221">-50</text><text x="136" y="1275">-75</text><text x="136" y="1329">-100</text>
</g>
<text x="203" y="916">toward</text>
<text x="203" y="1090">10</text>
<text x="203" y="1155">-10</text>
<text x="203" y="1328">away</text>
<text x="325" y="984" font-size="32" textLength="155">Frequency</text>
<text x="291" y="1017" font-size="30" textLength="53">cvw</text>
<text x="351" y="1017" font-size="30" textLength="47">cve</text>
<text x="407" y="1017" font-size="30" textLength="48">fhw</text>
<text x="467" y="1017" font-size="30" textLength="42">fhe</text>
<g text-anchor="end">
<text x="291" y="1042">18</text><text x="291" y="1072">17</text><text x="291" y="1102">16</text><text x="291" y="1132">15</text><text x="291" y="1162">14</text><text x="291" y="1192">13</text><text x="291" y="1221">12</text><text x="291" y="1251">11</text><text x="291" y="1281">10</text><text x="291" y="1311">9</text><text x="291" y="1341">8</text>
<text x="540" y="1042">18</text><text x="540" y="1072">17</text><text x="540" y="1102">16</text><text x="540" y="1132">15</text><text x="540" y="1162">14</text><text x="540" y="1192">13</text><text x="540" y="1221">12</text><text x="540" y="1251">11</text><text x="540" y="1281">10</text><text x="540" y="1311">9</text><text x="540" y="1341">8</text>
</g>
<g font-size="32">
<text x="1002" y="1393" textLength="56">cvw</text>
<text x="1078" y="1393" textLength="50">cve</text>
<text x="1659" y="1397" textLength="52">fhw</text>
<text x="1730" y="1397" textLength="44">fhe</text>
<text x="1078" y="1421" fill="#f0f" textLength="54">b13</text>
<text x="1664" y="1424" fill="#f0f" textLength="53">b10</text>
</g>
</g>
</svg>
</body></html>
